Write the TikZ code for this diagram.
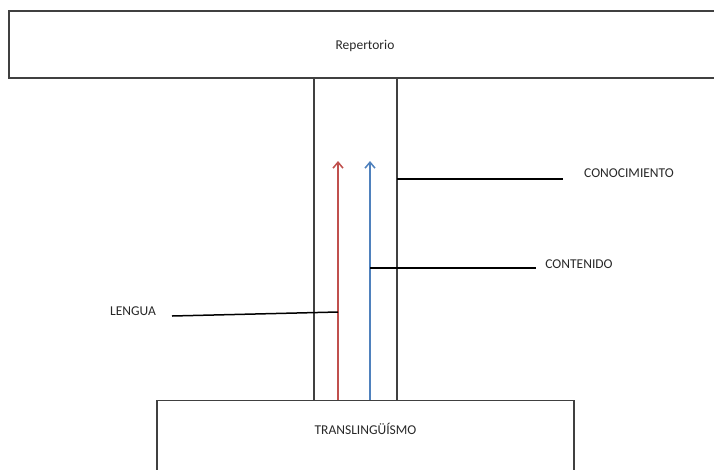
\documentclass[tikz,border=0pt]{standalone}
\usepackage{fontspec}
\setmainfont{Carlito}
\usetikzlibrary{arrows.meta, positioning, calc}
\definecolor{boxline}{RGB}{64,64,64}
\definecolor{arrowred}{RGB}{192,80,77}
\definecolor{arrowblue}{RGB}{79,129,189}
\definecolor{labeltext}{RGB}{40,40,40}
\tikzset{
  block/.style={
    rectangle, draw=boxline, line width=1.2pt,
    inner sep=0pt
  },
  tag/.style={
    font=\fontsize{13.5}{16}\selectfont, text=labeltext,
    inner sep=0pt, text height=8.7pt, text depth=0pt
  },
  leader/.style={black, line width=1.5pt},
  flowarrow/.style={
    -{Straight Barb[length=6pt, width=10pt]},
    line width=1.5pt, draw=#1
  }
}

\begin{document}
\begin{tikzpicture}[x=1pt, y=-1pt]
\useasboundingbox (0,0) rectangle (714,469);

% ── middle column ───────────────────────────────────────────
\node[block, minimum width=83pt, minimum height=322pt, anchor=north]
  (column) at (355.5,78) {};

% ── top and bottom blocks ───────────────────────────────────
\node[block, minimum width=711pt, minimum height=67pt]
  (repertorio) at (364.5,44.5) {};
\node[tag] (replabel) at (365,45) {Repertorio};

\node[block, minimum width=417pt, minimum height=90pt, anchor=north]
  (trans) at (365.5,400) {};
\node[tag, below=26pt of trans.north] (translabel) {TRANSLINGÜÍSMO};

% ── side labels ─────────────────────────────────────────────
\node[tag] (conoc) at (629,173) {CONOCIMIENTO};
\node[tag] (conten) at (579,264) {CONTENIDO};
\node[tag] (lengua) at (133,311) {LENGUA};

% ── arrow end points ────────────────────────────────────────
\coordinate (redfoot)  at (338,400);
\coordinate (redtip)   at (338,161);
\coordinate (bluefoot) at (370,400);
\coordinate (bluetip)  at (370,161);

% ── leader line end points ──────────────────────────────────
\coordinate (conocA)  at (397,179);
\coordinate (conocB)  at (563,179);
\coordinate (contenA) at (370,268);
\coordinate (contenB) at (536,268);
\coordinate (lenguaA) at (172,316);
\coordinate (lenguaB) at (338,312);

% ── arrows ──────────────────────────────────────────────────
\draw[flowarrow=arrowred]  (redfoot)  -- (redtip);
\draw[flowarrow=arrowblue] (bluefoot) -- (bluetip);

% ── leaders ─────────────────────────────────────────────────
\draw[leader] (conocA)  -- (conocB);
\draw[leader] (contenA) -- (contenB);
\draw[leader] (lenguaA) -- (lenguaB);

\end{tikzpicture}
\end{document}
